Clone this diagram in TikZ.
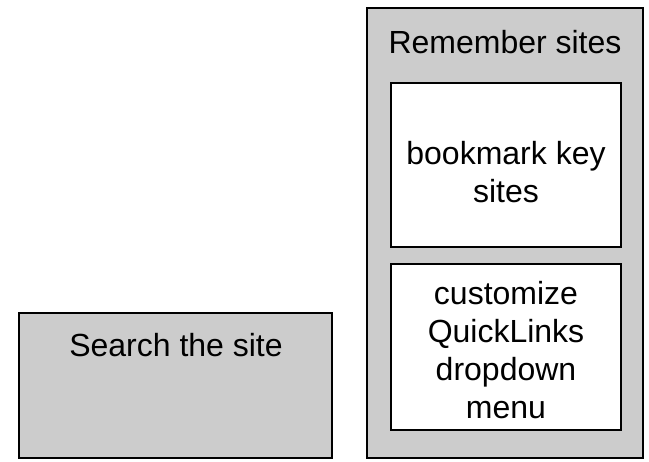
\documentclass[tikz,border=0pt]{standalone}
\usepackage{fontspec}
\setmainfont{Liberation Sans}
\usepackage{xcolor}
\definecolor{boxgray}{HTML}{CCCCCC}

\begin{document}
\begin{tikzpicture}[x=0.75pt, y=-0.75pt,
    outerbox/.style={draw, line width=1.5pt, fill=boxgray},
    innerbox/.style={draw, line width=1.5pt, fill=white},
    label/.style={align=center, font=\fontsize{24}{28.5}\selectfont}]

        \useasboundingbox (0, 0) rectangle (649, 461);

        % First Box: Search the site
        \draw[outerbox] (19, 313) rectangle (332, 458);
        \node[label] (search) at (176, 345) {Search the site};

        % Second Box: Remember sites
        \draw[outerbox] (367, 8) rectangle (643, 458);
        \node[label] (remember) at (505, 42) {Remember sites};

        % Inner box: bookmarks
        \draw[innerbox] (391, 83) rectangle (621, 247);
        \node[label] (bookmark) at (506, 172) {bookmark key\\ sites};

        % Inner box: QuickLinks
        \draw[innerbox] (391, 264) rectangle (621, 430);
        \node[label] (quicklinks) at (506, 350) {customize\\ QuickLinks\\ dropdown\\ menu};

\end{tikzpicture}
\end{document}
